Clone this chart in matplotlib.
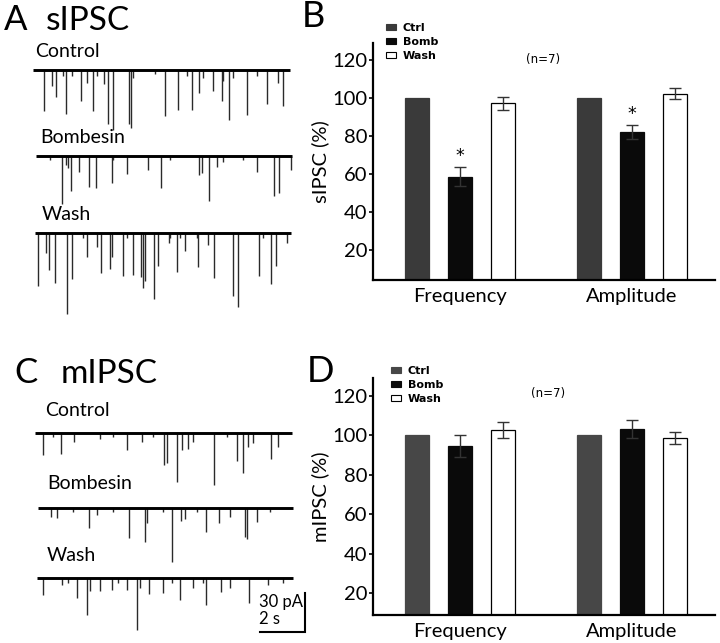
import matplotlib.pyplot as plt
from matplotlib.patches import Patch

plt.rcParams['font.family'] = ['Lato', 'DejaVu Sans']

# ---------------- data ----------------
# sIPSC traces: event times (s) and amplitudes (pA)
s_ctrl_t = [0.50, 0.84, 1.04, 1.36, 1.48, 1.73, 2.13, 2.43, 2.67, 2.84, 3.17, 3.36, 3.59,
            4.28, 4.37, 4.47, 5.44, 5.88, 6.44, 6.84, 7.07, 7.41, 7.59, 8.03, 8.40, 8.47,
            8.73, 8.92, 9.54, 9.96, 10.43, 10.92, 11.11]
s_ctrl_a = [32, 12.8, 21.3, 5, 34.6, 5, 24.4, 10.3, 32, 5, 11.5, 42.3, 46.2,
            42.3, 44.9, 6.4, 3.8, 35.9, 30.8, 5, 31.5, 17.9, 6.4, 16.7, 24.4, 9,
            38.5, 6.4, 35.1, 5, 26.9, 10.3, 28.2]
s_bomb_t = [0.77, 1.29, 1.48, 1.59, 1.69, 2.06, 2.50, 2.81, 3.51, 3.59, 4.21, 5.14, 5.70,
            6.10, 7.39, 7.51, 7.85, 8.18, 8.44, 9.36, 9.96, 10.74, 10.93, 11.48]
s_bomb_a = [3.3, 37.4, 7.2, 9.7, 27.2, 12.3, 23.8, 24.6, 21.3, 3.3, 14.4, 11, 24.6,
            3.3, 14.9, 13.6, 34.9, 8.5, 4.6, 3.3, 12.3, 30.8, 29, 11]
s_wash_t = [0.25, 0.58, 0.74, 1.01, 1.51, 1.76, 2.25, 2.40, 2.84, 3.02, 3.44, 3.51, 4.01,
            4.18, 4.44, 4.80, 4.89, 5.00, 5.41, 5.56, 6.07, 6.10, 6.40, 6.55, 6.77, 7.30,
            7.36, 7.81, 8.07, 8.89, 9.14, 10.07, 10.25, 10.58, 10.81, 11.32]
s_wash_a = [41, 15.9, 28.7, 38.9, 62.6, 35.9, 4.4, 18.7, 10.8, 30.8, 28.2, 18.5, 33.3,
            4.4, 32.6, 33.8, 42.8, 37.2, 51.3, 25.6, 8.2, 4.4, 30, 4.4, 14.1, 4.4,
            26.2, 9.5, 35.1, 48.7, 57.4, 33.3, 4.4, 39.2, 25.6, 8.2]

# mIPSC traces
m_ctrl_t = [0.44, 0.92, 1.24, 1.84, 2.99, 3.59, 4.18, 4.84, 5.36, 5.85, 5.99, 6.43, 6.62,
            6.92, 7.14, 8.07, 8.62, 9.07, 9.33, 9.59, 9.78, 10.58, 10.92]
m_ctrl_a = [17.2, 3, 15.9, 6.9, 4.4, 3, 13.3, 6.9, 3, 24.9, 23.1, 37.7, 12.8,
            12.1, 6.9, 39.7, 3, 21.8, 30.5, 10.8, 7.7, 19.7, 10.8]
m_bomb_t = [0.80, 1.07, 1.81, 2.52, 2.84, 3.59, 4.30, 4.98, 5.10, 5.81, 6.18, 6.58, 6.77,
            7.29, 7.70, 8.30, 8.77, 9.44, 9.51, 9.96, 10.55]
m_bomb_a = [6.4, 7.2, 2.6, 15.4, 5.1, 2.6, 22.6, 25.6, 11.5, 2.6, 41.5, 9.7, 8.2,
            2.6, 18.5, 11, 6.4, 21.8, 23.8, 10.3, 2.6]
m_wash_t = [0.47, 1.29, 1.59, 1.96, 2.43, 2.55, 2.99, 3.51, 3.81, 4.21, 4.62, 4.77, 5.19,
            5.78, 6.18, 6.55, 7.11, 7.58, 7.70, 8.36, 8.77, 9.61, 10.47, 11.14]
m_wash_a = [12.8, 5.1, 3.8, 15.4, 28.7, 10.3, 10.3, 9, 3.8, 9, 39.7, 7.7, 12.1,
            11.5, 3.8, 16.7, 7.7, 3.8, 20.5, 10.8, 7.7, 19.2, 5.1, 3.8]

# recording spans (s)
spans = [(0.00, 11.44), (0.15, 11.51), (0.10, 11.47),
         (0.10, 11.51), (0.25, 11.59), (0.18, 11.59)]
scale_s, scale_pa = 2, 30

# bar charts (% of control)
groups = ['Frequency', 'Amplitude']
conds = ['Ctrl', 'Bomb', 'Wash']
s_vals = {'Ctrl': [100, 100], 'Bomb': [58.5, 82.0], 'Wash': [97.2, 102.3]}
s_errs = {'Ctrl': [0, 0], 'Bomb': [5.0, 3.7], 'Wash': [3.3, 2.8]}
m_vals = {'Ctrl': [100, 100], 'Bomb': [94.6, 103.2], 'Wash': [102.5, 98.8]}
m_errs = {'Ctrl': [0, 0], 'Bomb': [5.4, 4.7], 'Wash': [4.0, 3.1]}
s_sig = [True, True]
m_sig = [False, False]

# ---------------- figure ----------------
W, H = 720, 643
fig = plt.figure(figsize=(W / 100, H / 100), dpi=100)


def fx(x):
    return x / W


def fy(y):
    return 1 - y / H


# traces: 22.5 px per s, 1.3 px per pA
pxs, pxa, x0 = 22.5, 1.3, 32.7
ax_tr = fig.add_axes([0, 0, 330 / W, 1])
ax_tr.set_xlim(-x0 / pxs, (330 - x0) / pxs)
ax_tr.set_ylim(-H / pxa, 0)
ax_tr.axis('off')

traces = [(s_ctrl_t, s_ctrl_a), (s_bomb_t, s_bomb_a), (s_wash_t, s_wash_a),
          (m_ctrl_t, m_ctrl_a), (m_bomb_t, m_bomb_a), (m_wash_t, m_wash_a)]
base_px = [69.5, 155.7, 232.7, 433, 508.3, 578]
for (tt, aa), (t0, t1), bp in zip(traces, spans, base_px):
    b = -bp / pxa
    ax_tr.vlines(tt, b, [b - a for a in aa], color='#2a2a2a', lw=1.0)
    ax_tr.hlines(b, t0, t1, color='black', lw=2.1)

# scale bar
sb_y = -632 / pxa
sb_x = 10.1
ax_tr.plot([sb_x, sb_x + scale_s, sb_x + scale_s], [sb_y, sb_y, sb_y + scale_pa],
           color='black', lw=1.5, solid_joinstyle='miter')
fig.text(fx(259), fy(607), '%d pA' % scale_pa, fontsize=12, va='baseline')
fig.text(fx(259), fy(624), '%d s' % scale_s, fontsize=12, va='baseline')

# left-column text
fig.text(fx(4), fy(30), 'A', fontsize=25, va='baseline')
fig.text(fx(46), fy(30), 'sIPSC', fontsize=24, va='baseline')
fig.text(fx(14), fy(383), 'C', fontsize=25, va='baseline')
fig.text(fx(61), fy(383), 'mIPSC', fontsize=24, va='baseline')
for lab, x, y in [('Control', 35, 57), ('Bombesin', 40, 143), ('Wash', 42, 220),
                  ('Control', 45, 416), ('Bombesin', 47, 489), ('Wash', 47, 561)]:
    fig.text(fx(x), fy(y), lab, fontsize=14, va='baseline')

# bar panels
pos = [[-1, 3], [0, 4], [1, 5]]
colors = {'Ctrl': ['#3a3a3a', '#474747'], 'Bomb': ['#0a0a0a', '#0a0a0a'], 'Wash': ['white', 'white']}


def bar_panel(top_px, vals, errs, sig, ylab, ymin, k, letter, leg_xy, n_xy):
    ax = fig.add_axes([fx(373), fy(top_px + 237), (715 - 373) / W, 237 / H])
    for i, c in enumerate(conds):
        ax.bar(pos[i], vals[c], width=0.56, color=colors[c][k],
               edgecolor='black' if c == 'Wash' else colors[c][k], linewidth=0.9, zorder=2)
        if c != 'Ctrl':
            ax.errorbar(pos[i], vals[c], yerr=errs[c], fmt='none', ecolor='#333333',
                        elinewidth=1.0, capsize=4.5, capthick=1.0, zorder=3)
    for j, s in enumerate(sig):
        if s:
            ax.text(pos[1][j], vals['Bomb'][j] + errs['Bomb'][j] + 1.0, '*',
                    ha='center', va='bottom', fontsize=12.5, family='DejaVu Sans')
    ax.set_xlim(-2.02, 5.93)
    ax.set_ylim(ymin, 129)
    ax.set_yticks([20, 40, 60, 80, 100, 120])
    ax.set_xticks(pos[1])
    ax.set_xticklabels(groups)
    for side in ['top', 'right']:
        ax.spines[side].set_visible(False)
    for side in ['left', 'bottom']:
        ax.spines[side].set_linewidth(1.6)
    ax.tick_params(axis='y', labelsize=14.5, length=3, width=1.2, pad=1)
    ax.tick_params(axis='x', labelsize=14.5, length=0, pad=6)
    ax.set_ylabel(ylab, fontsize=14.5, labelpad=2)
    handles = [Patch(facecolor=colors[c][k], edgecolor='black' if c == 'Wash' else colors[c][k],
                     linewidth=0.8, label=c) for c in conds]
    ax.legend(handles=handles, loc='upper left', bbox_to_anchor=(fx(leg_xy[0]), fy(leg_xy[1])),
              bbox_transform=fig.transFigure, frameon=False, borderpad=0, borderaxespad=0,
              handlelength=0.9, handleheight=0.55, handletextpad=0.6, labelspacing=0.35,
              prop={'size': 8, 'weight': 'bold', 'family': 'DejaVu Sans'})
    fig.text(fx(n_xy[0]), fy(n_xy[1]), '(n=7)', fontsize=8.5, ha='center', va='center',
             family='DejaVu Sans')
    fig.text(fx(letter[1]), fy(letter[2]), letter[0], fontsize=26, va='baseline')
    return ax


bar_panel(43, s_vals, s_errs, s_sig, 'sIPSC (%)', 4.2, 0, ('B', 302, 27), (386, 23), (543, 60))
bar_panel(378, m_vals, m_errs, m_sig, 'mIPSC (%)', 9.0, 1, ('D', 307, 382), (391, 366), (548, 393))

fig.savefig('out.png', dpi=100)
